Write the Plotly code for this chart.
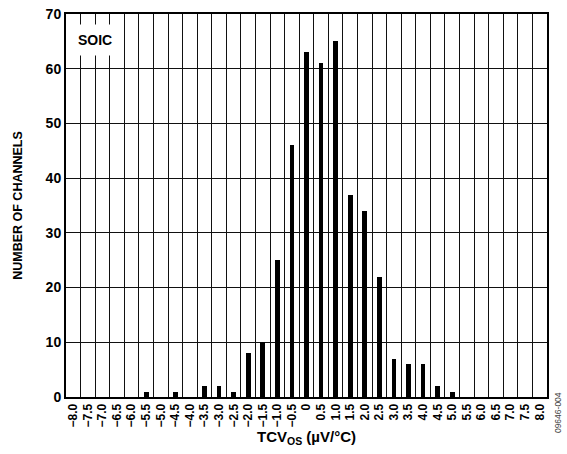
import plotly.graph_objects as go

# Bin centres (µV/°C) and channel counts
bins = ["−8.0", "−7.5", "−7.0", "−6.5", "−6.0", "−5.5", "−5.0", "−4.5", "−4.0",
        "−3.5", "−3.0", "−2.5", "−2.0", "−1.5", "−1.0", "−0.5", "0",
        "0.5", "1.0", "1.5", "2.0", "2.5", "3.0", "3.5", "4.0", "4.5", "5.0",
        "5.5", "6.0", "6.5", "7.0", "7.5", "8.0"]
counts = [0, 0, 0, 0, 0, 1, 0, 1, 0,
          2, 2, 1, 8, 10, 25, 46, 63,
          61, 65, 37, 34, 22, 7, 6, 6, 2, 1,
          0, 0, 0, 0, 0, 0]
y_ticks = [0, 10, 20, 30, 40, 50, 60, 70]

FONT = "Liberation Sans, Arial, Helvetica, sans-serif"

fig = go.Figure()
fig.add_trace(go.Bar(
    x=bins, y=counts, width=0.32,
    marker=dict(color="black", line=dict(width=0)),
    showlegend=False, hoverinfo="skip",
))

fig.update_layout(
    width=567, height=454,
    margin=dict(l=66, r=20, t=14, b=57),
    paper_bgcolor="white", plot_bgcolor="white",
    font=dict(family=FONT, color="black"),
    bargap=0,
)

fig.update_xaxes(
    type="category", automargin=False,
    categoryorder="array", categoryarray=bins,
    tickmode="array", tickvals=bins, ticktext=bins,
    tickson="boundaries",
    ticks="", showgrid=True, gridcolor="#111", gridwidth=1.2,
    tickangle=-90,
    tickfont=dict(size=12, family=FONT, weight="bold"),
    showline=True, linecolor="black", linewidth=2, mirror=True,
    title=dict(text="<b>TCV<sub>OS</sub> (µV/°C)</b>",
               font=dict(size=15, family=FONT), standoff=3),
)

fig.update_yaxes(
    range=[0, 70], tickvals=y_ticks, automargin=False,
    showgrid=True, gridcolor="#111", gridwidth=1.2, zeroline=False,
    tickfont=dict(size=14, family=FONT, weight="bold"),
    ticks="", ticklen=0,
    showline=True, linecolor="black", linewidth=2, mirror=True,
    title=dict(text="<b>NUMBER OF CHANNELS</b>",
               font=dict(size=12.5, family=FONT), standoff=20),
)

fig.add_annotation(
    x=0, y=0.932, xref="paper", yref="paper",
    xanchor="left", yanchor="middle", xshift=4,
    text="<b>SOIC</b>", showarrow=False,
    font=dict(size=14, family=FONT, color="black"),
    bgcolor="white", borderpad=7,
)

fig.add_annotation(
    x=1.0, y=-0.042, xref="paper", yref="paper",
    xanchor="center", yanchor="middle", xshift=11,
    text="09646-004", showarrow=False, textangle=-90,
    font=dict(size=8.5, family=FONT, color="#444"),
)

fig.write_html("out.html",
               config={"displayModeBar": False},
               post_script="document.body.style.margin='0';document.body.style.padding='0';")
